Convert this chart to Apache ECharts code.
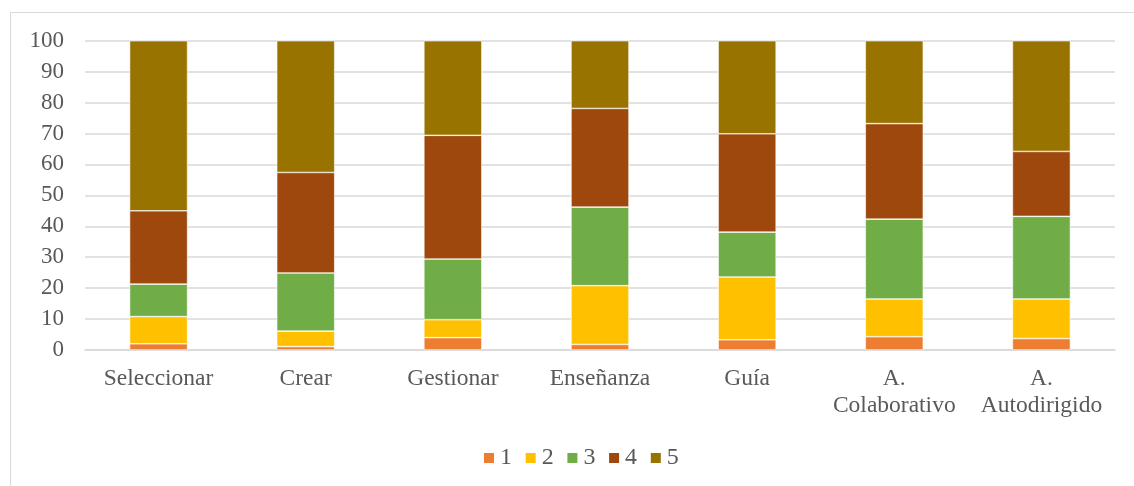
<!DOCTYPE html>
<html>
<head>
<meta charset="utf-8">
<script src="https://cdn.jsdelivr.net/npm/echarts@6/dist/echarts.min.js"></script>
<style>
  html, body { margin: 0; padding: 0; background: #fff; }
  #chart { width: 1134px; height: 486px; }
</style>
</head>
<body>
<div id="chart"></div>
<script>
var categories = ['Seleccionar', 'Crear', 'Gestionar', 'Enseñanza', 'Guía', 'A.\nColaborativo', 'A.\nAutodirigido'];
var seriesNames = ['1', '2', '3', '4', '5'];
var values1 = [2.0, 1.1, 4.0, 1.8, 3.3, 4.3, 3.7];
var values2 = [8.8, 5.0, 5.8, 19.0, 20.3, 12.2, 12.8];
var values3 = [10.5, 18.8, 19.6, 25.4, 14.5, 25.8, 26.7];
var values4 = [23.7, 32.5, 40.0, 31.9, 31.8, 30.9, 21.0];
var values5 = [55.0, 42.6, 30.6, 21.9, 30.1, 26.8, 35.8];
var allValues = [values1, values2, values3, values4, values5];
var colors = ['#ED7D31', '#FFC000', '#70AD47', '#9E480E', '#997300'];

var font = '"Liberation Serif", "Times New Roman", serif';
var serieData = [];
for (var v = 0; v < seriesNames.length; v++) {
    serieData.push({
        name: seriesNames[v],
        type: 'bar',
        stack: 'total',
        barWidth: 58,
        itemStyle: { borderColor: '#ffffff', borderWidth: 0.6 },
        data: allValues[v]
    });
}

var chart = echarts.init(document.getElementById('chart'));
chart.setOption({
    animation: false,
    backgroundColor: '#ffffff',
    color: colors,
    graphic: [{
        type: 'rect',
        shape: { x: 10.5, y: 12.5, width: 1200, height: 600 },
        style: { fill: 'none', stroke: '#d9d9d9', lineWidth: 1 },
        silent: true
    }],
    grid: { left: 85, right: 19, top: 40.7, bottom: 136, containLabel: false },
    legend: {
        data: seriesNames,
        left: 477,
        top: 441,
        itemWidth: 12,
        itemHeight: 12,
        itemGap: 11.7,
        icon: 'rect',
        textStyle: { color: '#595959', fontSize: 24, fontFamily: font }
    },
    xAxis: {
        type: 'category',
        data: categories,
        axisLine: { show: true, lineStyle: { color: '#d9d9d9', width: 1.5 } },
        axisTick: { show: false },
        axisLabel: {
            interval: 0,
            margin: 15,
            color: '#595959',
            fontSize: 23.5,
            lineHeight: 27,
            fontFamily: font
        }
    },
    yAxis: {
        type: 'value',
        min: 0,
        max: 100,
        interval: 10,
        axisLine: { show: false },
        axisTick: { show: false },
        splitLine: { lineStyle: { color: '#d9d9d9', width: 1.5 } },
        axisLabel: { margin: 21, color: '#595959', fontSize: 23, fontFamily: font }
    },
    series: serieData
});
</script>
</body>
</html>
